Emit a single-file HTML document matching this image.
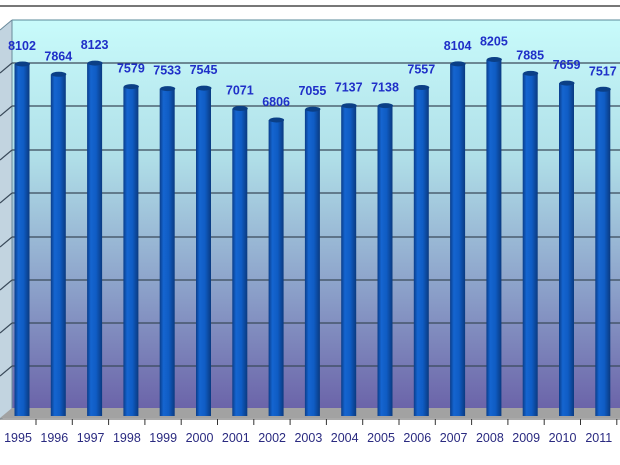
<!DOCTYPE html>
<html><head><meta charset="utf-8"><style>html,body{margin:0;background:#fff;width:620px;height:465px;overflow:hidden}svg{display:block}</style></head><body>
<svg width="620" height="465" viewBox="0 0 620 465" xmlns="http://www.w3.org/2000/svg" font-family="Liberation Sans, sans-serif">
<defs>
<linearGradient id="bg" x1="0" y1="0" x2="0" y2="1">
<stop offset="0" stop-color="#c8fbfb"/><stop offset="0.35" stop-color="#b0dfe8"/><stop offset="0.7" stop-color="#8a9ec8"/><stop offset="1" stop-color="#6a62a8"/>
</linearGradient>
<linearGradient id="bar" x1="0" y1="0" x2="1" y2="0">
<stop offset="0" stop-color="#0a3d8a"/><stop offset="0.25" stop-color="#1565d0"/><stop offset="0.6" stop-color="#0f5cc4"/><stop offset="1" stop-color="#0a3a80"/>
</linearGradient>
</defs>
<line x1="0" y1="6" x2="620" y2="6" stroke="#777" stroke-width="2"/>
<rect x="12" y="20" width="608" height="392" fill="url(#bg)"/>
<polygon points="0,30 12,20 12,412 0,420" fill="#9ab8cc" opacity="0.6"/>
<line x1="12" y1="20" x2="620" y2="20" stroke="#5a8a9a" stroke-width="1"/>
<line x1="12" y1="20" x2="12" y2="412" stroke="#6a8a9a" stroke-width="1"/>
<line x1="0" y1="30" x2="12" y2="20" stroke="#6a8a9a"/>
<g stroke="#3a4a5a" stroke-width="1.2">
<line x1="12" y1="63" x2="620" y2="63"/><line x1="12" y1="106" x2="620" y2="106"/>
<line x1="12" y1="150" x2="620" y2="150"/><line x1="12" y1="193" x2="620" y2="193"/>
<line x1="12" y1="237" x2="620" y2="237"/><line x1="12" y1="280" x2="620" y2="280"/>
<line x1="12" y1="323" x2="620" y2="323"/><line x1="12" y1="366" x2="620" y2="366"/>
<line x1="0" y1="73" x2="12" y2="63"/><line x1="0" y1="116" x2="12" y2="106"/>
<line x1="0" y1="160" x2="12" y2="150"/><line x1="0" y1="203" x2="12" y2="193"/>
<line x1="0" y1="247" x2="12" y2="237"/><line x1="0" y1="290" x2="12" y2="280"/>
<line x1="0" y1="333" x2="12" y2="323"/><line x1="0" y1="376" x2="12" y2="366"/>
</g>
<polygon points="12,408 620,408 620,418 0,418" fill="#a2a2a2"/>
<g fill="url(#bar)">
<rect x="14.5" y="64" width="15" height="352"/>
<rect x="50.8" y="74.3" width="15" height="341.7"/>
<rect x="87.1" y="63.1" width="15" height="352.9"/>
<rect x="123.4" y="86.6" width="15" height="329.4"/>
<rect x="159.7" y="88.6" width="15" height="327.4"/>
<rect x="196" y="88.1" width="15" height="327.9"/>
<rect x="232.3" y="108.5" width="15" height="307.5"/>
<rect x="268.6" y="120" width="15" height="296"/>
<rect x="304.9" y="109.2" width="15" height="306.8"/>
<rect x="341.2" y="105.7" width="15" height="310.3"/>
<rect x="377.5" y="105.6" width="15" height="310.4"/>
<rect x="413.8" y="87.5" width="15" height="328.5"/>
<rect x="450.1" y="63.9" width="15" height="352.1"/>
<rect x="486.4" y="59.5" width="15" height="356.5"/>
<rect x="522.7" y="73.4" width="15" height="342.6"/>
<rect x="559" y="83.1" width="15" height="332.9"/>
<rect x="595.3" y="89.3" width="15" height="326.7"/>
</g>
<g fill="#0b3f86">
<ellipse cx="22.5" cy="64" rx="7.5" ry="2.5"/><ellipse cx="58.8" cy="74.3" rx="7.5" ry="2.5"/><ellipse cx="95.1" cy="63.1" rx="7.5" ry="2.5"/><ellipse cx="131.4" cy="86.6" rx="7.5" ry="2.5"/><ellipse cx="167.7" cy="88.6" rx="7.5" ry="2.5"/><ellipse cx="204" cy="88.1" rx="7.5" ry="2.5"/><ellipse cx="240.3" cy="108.5" rx="7.5" ry="2.5"/><ellipse cx="276.6" cy="120" rx="7.5" ry="2.5"/><ellipse cx="312.9" cy="109.2" rx="7.5" ry="2.5"/><ellipse cx="349.2" cy="105.7" rx="7.5" ry="2.5"/><ellipse cx="385.5" cy="105.6" rx="7.5" ry="2.5"/><ellipse cx="421.8" cy="87.5" rx="7.5" ry="2.5"/><ellipse cx="458.1" cy="63.9" rx="7.5" ry="2.5"/><ellipse cx="494.4" cy="59.5" rx="7.5" ry="2.5"/><ellipse cx="530.7" cy="73.4" rx="7.5" ry="2.5"/><ellipse cx="567" cy="83.1" rx="7.5" ry="2.5"/><ellipse cx="603.3" cy="89.3" rx="7.5" ry="2.5"/>
</g>
<line x1="0" y1="419" x2="620" y2="419" stroke="#555" stroke-width="1"/>
<g stroke="#333" stroke-width="1">
<line x1="36" y1="419" x2="36" y2="425"/><line x1="72.3" y1="419" x2="72.3" y2="425"/><line x1="108.6" y1="419" x2="108.6" y2="425"/><line x1="144.9" y1="419" x2="144.9" y2="425"/><line x1="181.2" y1="419" x2="181.2" y2="425"/><line x1="217.5" y1="419" x2="217.5" y2="425"/><line x1="253.8" y1="419" x2="253.8" y2="425"/><line x1="290.1" y1="419" x2="290.1" y2="425"/><line x1="326.4" y1="419" x2="326.4" y2="425"/><line x1="362.7" y1="419" x2="362.7" y2="425"/><line x1="399" y1="419" x2="399" y2="425"/><line x1="435.3" y1="419" x2="435.3" y2="425"/><line x1="471.6" y1="419" x2="471.6" y2="425"/><line x1="507.9" y1="419" x2="507.9" y2="425"/><line x1="544.2" y1="419" x2="544.2" y2="425"/><line x1="580.5" y1="419" x2="580.5" y2="425"/><line x1="616.8" y1="419" x2="616.8" y2="425"/>
</g>
<g font-size="12.5" font-weight="bold" fill="#1f2fc8" text-anchor="middle">
<text x="22" y="50">8102</text><text x="58.3" y="60.3">7864</text><text x="94.6" y="49.1">8123</text><text x="130.9" y="72.6">7579</text><text x="167.2" y="74.6">7533</text><text x="203.5" y="74.1">7545</text><text x="239.8" y="94.5">7071</text><text x="276.1" y="106">6806</text><text x="312.4" y="95.2">7055</text><text x="348.7" y="91.7">7137</text><text x="385" y="91.6">7138</text><text x="421.3" y="73.5">7557</text><text x="457.6" y="49.9">8104</text><text x="493.9" y="45.5">8205</text><text x="530.2" y="59.4">7885</text><text x="566.5" y="69.1">7659</text><text x="602.8" y="75.3">7517</text>
</g>
<g font-size="12.5" fill="#2a2a80" text-anchor="middle">
<text x="18" y="442">1995</text><text x="54.3" y="442">1996</text><text x="90.6" y="442">1997</text><text x="126.9" y="442">1998</text><text x="163.2" y="442">1999</text><text x="199.5" y="442">2000</text><text x="235.8" y="442">2001</text><text x="272.1" y="442">2002</text><text x="308.4" y="442">2003</text><text x="344.7" y="442">2004</text><text x="381" y="442">2005</text><text x="417.3" y="442">2006</text><text x="453.6" y="442">2007</text><text x="489.9" y="442">2008</text><text x="526.2" y="442">2009</text><text x="562.5" y="442">2010</text><text x="598.8" y="442">2011</text>
</g>
</svg>
</body></html>
